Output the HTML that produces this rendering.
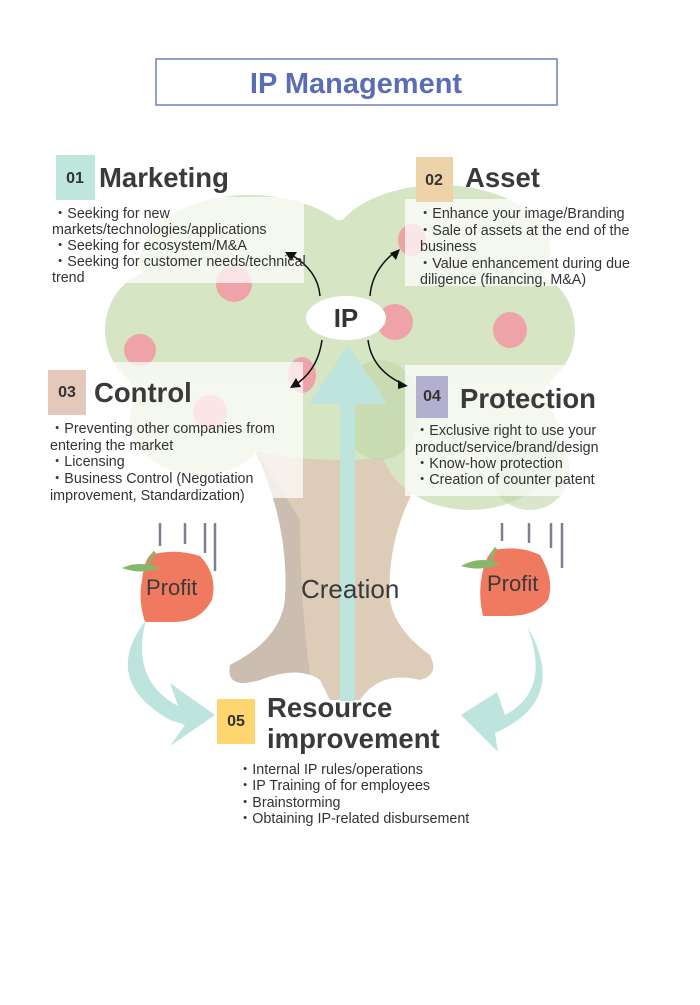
<!DOCTYPE html>
<html><head><meta charset="utf-8"><style>
body{margin:0;background:#fff;}
svg text{font-family:"Liberation Sans",sans-serif;}
</style></head><body>
<svg width="700" height="1000" viewBox="0 0 700 1000" xmlns="http://www.w3.org/2000/svg">
<rect width="700" height="1000" fill="#fff"/>
<rect x="156" y="59" width="401" height="46" fill="#fff" stroke="#6f7fc0" stroke-width="1.5"/>
<text x="356" y="93" text-anchor="middle" font-size="29" font-weight="bold" fill="#5b6db5">IP Management</text>
<!-- trunk -->
<path d="M250 440 Q290 520 285 600 Q280 640 230 665 Q225 690 260 680 Q300 665 320 680 L330 700 L360 700 Q380 670 420 680 Q440 675 430 655 Q395 630 390 600 Q385 520 440 450 Z" fill="#ddccb8"/>
<path d="M250 440 Q290 520 285 600 Q280 640 230 665 Q225 690 260 680 Q290 668 310 675 Q300 600 300 520 Z" fill="#cbbdb0"/>
<!-- canopy -->
<g fill="#d6e5c4">
<ellipse cx="340" cy="340" rx="225" ry="120"/>
<ellipse cx="250" cy="260" rx="110" ry="65"/>
<ellipse cx="440" cy="250" rx="110" ry="65"/>
<ellipse cx="160" cy="330" rx="55" ry="60"/>
<ellipse cx="530" cy="330" rx="45" ry="55"/>
<ellipse cx="470" cy="440" rx="90" ry="70"/>
<ellipse cx="200" cy="420" rx="70" ry="55"/>
</g>
<g fill="#bfd6a8" opacity=".6">
<ellipse cx="380" cy="410" rx="40" ry="50"/>
<ellipse cx="530" cy="470" rx="40" ry="40"/>
</g>
<g fill="#eea3a8">
<ellipse cx="234" cy="284" rx="18" ry="18"/>
<ellipse cx="140" cy="350" rx="16" ry="16"/>
<ellipse cx="395" cy="322" rx="18" ry="18"/>
<ellipse cx="510" cy="330" rx="17" ry="18"/>
<ellipse cx="412" cy="240" rx="14" ry="16"/>
<ellipse cx="302" cy="375" rx="14" ry="18"/>
<ellipse cx="210" cy="412" rx="17" ry="17"/>
</g>
<g fill="#fff" opacity=".72">
<rect x="52" y="197" width="252" height="86"/>
<rect x="405" y="199" width="251" height="87"/>
<rect x="48" y="362" width="255" height="136"/>
<rect x="405" y="365" width="243" height="131"/>
</g>
<rect x="340" y="395" width="15" height="306" fill="#bde5de"/>
<polygon points="309,404 348,345 387,404" fill="#bde5de"/>
<ellipse cx="346" cy="318" rx="40" ry="22" fill="#fff"/>
<text x="346" y="327" text-anchor="middle" font-size="26" font-weight="bold" fill="#333">IP</text>
<g fill="none" stroke="#111" stroke-width="1.5">
<path d="M320 296 Q318 270 290 254"/>
<path d="M370 296 Q372 270 395 252"/>
<path d="M322 340 Q318 370 295 385"/>
<path d="M368 340 Q372 370 403 384"/>
</g>
<g fill="#111">
<polygon points="285,252 297,252 291,261"/>
<polygon points="400,249 390,253 396,260"/>
<polygon points="290,388 296,378 301,387"/>
<polygon points="408,386 398,380 398,389"/>
</g>
<rect x="56" y="155" width="39" height="45" fill="#bfe6dd"/>
<text x="75" y="183" text-anchor="middle" font-size="16" font-weight="bold" fill="#333">01</text>
<rect x="416" y="157" width="37" height="45" fill="#efd3a8"/>
<text x="434" y="185" text-anchor="middle" font-size="16" font-weight="bold" fill="#333">02</text>
<rect x="48" y="370" width="38" height="45" fill="#e4c8bc"/>
<text x="67" y="397" text-anchor="middle" font-size="16" font-weight="bold" fill="#333">03</text>
<rect x="416" y="376" width="32" height="42" fill="#b2afcf"/>
<text x="432" y="401" text-anchor="middle" font-size="16" font-weight="bold" fill="#333">04</text>
<rect x="217" y="699" width="38" height="45" fill="#fed56e"/>
<text x="236" y="726" text-anchor="middle" font-size="16" font-weight="bold" fill="#333">05</text>
<g font-weight="bold" font-size="27.5" fill="#3a3a3a">
<text x="99" y="187">Marketing</text>
<text x="465" y="187">Asset</text>
<text x="94" y="402">Control</text>
<text x="460" y="408">Protection</text>
<text x="267" y="717">Resource</text>
<text x="267" y="748">improvement</text>
</g>
<g font-size="14.3" fill="#333">
<text x="53" y="218">・Seeking for new</text>
<text x="52" y="234">markets/technologies/applications</text>
<text x="53" y="250">・Seeking for ecosystem/M&amp;A</text>
<text x="53" y="266">・Seeking for customer needs/technical</text>
<text x="52" y="282">trend</text>
<text x="418" y="218">・Enhance your image/Branding</text>
<text x="418" y="235">・Sale of assets at the end of the</text>
<text x="420" y="251">business</text>
<text x="418" y="268">・Value enhancement during due</text>
<text x="420" y="284">diligence (financing, M&amp;A)</text>
<text x="50" y="433">・Preventing other companies from</text>
<text x="50" y="450">entering the market</text>
<text x="50" y="466">・Licensing</text>
<text x="50" y="483">・Business Control (Negotiation</text>
<text x="50" y="500">improvement,  Standardization)</text>
<text x="415" y="435">・Exclusive right to use your</text>
<text x="415" y="452">product/service/brand/design</text>
<text x="415" y="468">・Know-how protection</text>
<text x="415" y="484">・Creation of counter patent</text>
<text x="238" y="774">・Internal IP rules/operations</text>
<text x="238" y="790">・IP Training of for employees</text>
<text x="238" y="807">・Brainstorming</text>
<text x="238" y="823">・Obtaining IP-related disbursement</text>
</g>
<g stroke="#7b8094" stroke-width="2.5">
<line x1="160" y1="523" x2="160" y2="546"/><line x1="185" y1="523" x2="185" y2="544"/>
<line x1="205" y1="523" x2="205" y2="553"/><line x1="215" y1="523" x2="215" y2="571"/>
<line x1="502" y1="523" x2="502" y2="541"/><line x1="529" y1="523" x2="529" y2="543"/>
<line x1="551" y1="523" x2="551" y2="548"/><line x1="562" y1="523" x2="562" y2="568"/>
</g>
<path d="M150 555 Q175 548 200 556 Q218 575 212 600 Q200 622 175 622 L145 622 Q138 600 142 580 Q144 562 150 555Z" fill="#f07a60"/>
<path d="M122 568 Q140 560 160 568 Q140 575 122 568Z" fill="#86b86c"/>
<path d="M150 568 Q148 558 155 552" stroke="#86b86c" stroke-width="3" fill="none"/>
<path d="M493 550 Q520 545 540 555 Q555 580 548 600 Q535 617 505 616 L483 616 Q478 595 482 575 Q485 558 493 550Z" fill="#f07a60"/>
<path d="M461 566 Q480 555 500 564 Q480 572 461 566Z" fill="#86b86c"/>
<path d="M492 563 Q490 555 496 548" stroke="#86b86c" stroke-width="3" fill="none"/>
<g font-size="22" fill="#3a3a3a">
<text x="146" y="595">Profit</text>
<text x="487" y="591">Profit</text>
<text x="301" y="598" font-size="26">Creation</text>
</g>
<path d="M146 620 Q100 680 170 720 L185 725 L170 746 L215 715 L170 683 L178 706 Q130 680 146 620Z" fill="#bde5de"/>
<path d="M527 626 Q552 690 505 715 L497 692 L461 715 L498 752 L495 733 Q570 700 527 626Z" fill="#bde5de"/>
</svg>
</body></html>
